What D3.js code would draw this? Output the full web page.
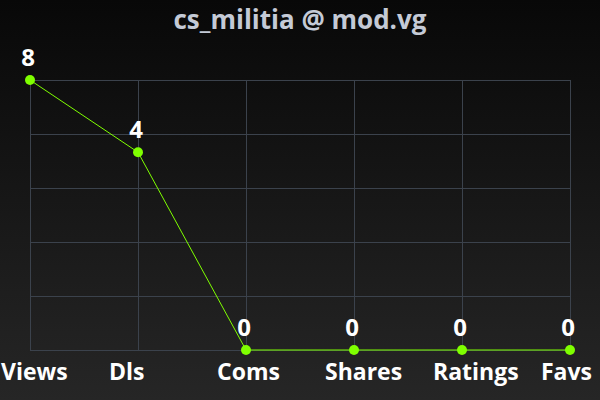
<!DOCTYPE html>
<html>
<head>
<meta charset="utf-8">
<script src="https://cdn.jsdelivr.net/npm/d3@7"></script>
<style>
  html, body { margin: 0; padding: 0; background: #111; }
  svg { display: block; font-family: "Open Sans", sans-serif; font-weight: bold; }
</style>
</head>
<body>
<svg id="chart" width="600" height="400"></svg>
<script>
const title = "cs_militia @ mod.vg";
const categories = ["Views", "Dls", "Coms", "Shares", "Ratings", "Favs"];
const values = [8, 4, 0, 0, 0, 0];

const svg = d3.select("#chart");
const width = +svg.attr("width");
const height = +svg.attr("height");

const margin = { top: 80, bottom: 50, left: 30, right: 30 };
const innerWidth = width - margin.left - margin.right;
const innerHeight = height - margin.top - margin.bottom;

// background gradient
const grad = svg.append("defs").append("linearGradient")
    .attr("id", "bg")
    .attr("x1", 0).attr("y1", 0).attr("x2", 0).attr("y2", 1);
grad.append("stop").attr("offset", "0%").attr("stop-color", "#080808");
grad.append("stop").attr("offset", "100%").attr("stop-color", "#262626");

svg.append("rect")
    .attr("width", width)
    .attr("height", height)
    .attr("fill", "url(#bg)");

svg.append("text")
    .attr("x", width / 2)
    .attr("y", 29)
    .attr("text-anchor", "middle")
    .attr("fill", "#c4cad6")
    .style("font-size", "26px")
    .text(title);

const g = svg.append("g").attr("transform", `translate(${margin.left}, ${margin.top})`);

const xScale = d3.scalePoint()
    .domain(categories)
    .range([0, innerWidth]);

// values are plotted on a log(1 + v) scale
const yScale = d3.scaleSymlog()
    .constant(1)
    .domain([0, d3.max(values)])
    .range([innerHeight, 0]);

// grid: 5 equal bands
const gridRows = d3.range(6).map(i => innerHeight * i / 5);

g.selectAll(".hgrid")
    .data(gridRows)
    .enter()
    .append("line")
    .attr("x1", 0)
    .attr("x2", innerWidth)
    .attr("y1", d => d + 0.5)
    .attr("y2", d => d + 0.5)
    .attr("stroke", "#3b424c")
    .attr("stroke-width", 1);

g.selectAll(".vgrid")
    .data(categories)
    .enter()
    .append("line")
    .attr("x1", d => xScale(d) + 0.5)
    .attr("x2", d => xScale(d) + 0.5)
    .attr("y1", 0)
    .attr("y2", innerHeight)
    .attr("stroke", "#3b424c")
    .attr("stroke-width", 1);

const data = categories.map((c, i) => ({ cat: c, value: values[i] }));

const line = d3.line()
    .x(d => xScale(d.cat))
    .y(d => yScale(d.value));

g.append("path")
    .datum(data)
    .attr("d", line)
    .attr("fill", "none")
    .attr("stroke", "#7fff00")
    .attr("stroke-width", 1);

g.selectAll(".dot")
    .data(data)
    .enter()
    .append("circle")
    .attr("cx", d => xScale(d.cat))
    .attr("cy", d => yScale(d.value))
    .attr("r", 5)
    .attr("fill", "#7fff00");

g.selectAll(".value-label")
    .data(data)
    .enter()
    .append("text")
    .attr("x", d => xScale(d.cat) - 2)
    .attr("y", d => yScale(d.value) - 14)
    .attr("text-anchor", "middle")
    .attr("fill", "#ffffff")
    .style("font-size", "24px")
    .text(d => d.value);

g.selectAll(".cat-label")
    .data(data)
    .enter()
    .append("text")
    .attr("x", d => xScale(d.cat) - 29)
    .attr("y", innerHeight + 30)
    .attr("text-anchor", "start")
    .attr("fill", "#ffffff")
    .style("font-size", "23px")
    .text(d => d.cat);
</script>
</body>
</html>
